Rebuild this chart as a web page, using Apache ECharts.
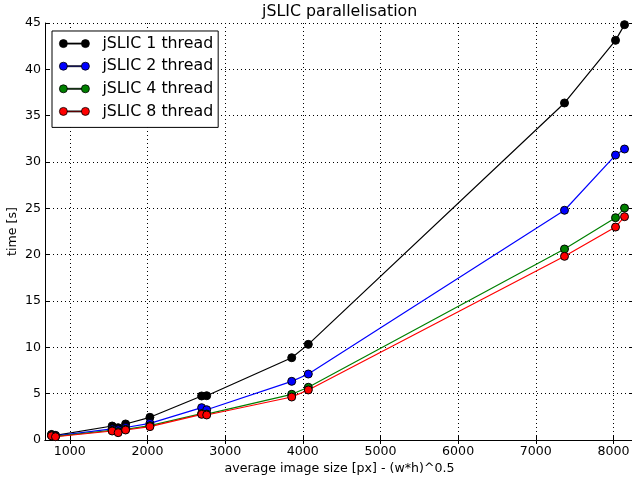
<!DOCTYPE html>
<html>
<head>
<meta charset="utf-8">
<script src="https://cdn.jsdelivr.net/npm/echarts@6.0.0/dist/echarts.min.js"></script>
<style>
    body { margin: 0; background: #fff; }
    #main { width: 632px; height: 477px; }
</style>
</head>
<body>
<div id="main"></div>
<script>
var imageSize = [764, 815, 1545, 1622, 1718, 2031, 2697, 2762, 3857, 4071, 7370, 8027, 8143];
var thread1 = [0.60, 0.50, 1.51, 1.33, 1.73, 2.45, 4.75, 4.78, 8.88, 10.32, 36.37, 43.13, 44.82];
var thread2 = [0.55, 0.45, 1.20, 1.10, 1.35, 1.80, 3.49, 3.27, 6.33, 7.12, 24.79, 30.75, 31.40];
var thread4 = [0.50, 0.40, 1.05, 0.90, 1.15, 1.55, 2.85, 2.80, 4.93, 5.69, 20.61, 23.99, 25.03];
var thread8 = [0.45, 0.35, 0.97, 0.79, 1.08, 1.44, 2.77, 2.70, 4.64, 5.40, 19.82, 22.98, 24.10];

var seriesNames = ['jSLIC 1 thread', 'jSLIC 2 thread', 'jSLIC 4 thread', 'jSLIC 8 thread'];
var seriesColors = ['#000000', '#0000ff', '#008000', '#ff0000'];
var xTicks = [1000, 2000, 3000, 4000, 5000, 6000, 7000, 8000];

var font = 'DejaVu Sans';
var legendIcon = 'path://M0,4a4,4 0 1,0 8,0a4,4 0 1,0 -8,0ZM8,3.5h14v1h-14ZM22,4a4,4 0 1,0 8,0a4,4 0 1,0 -8,0Z';

var myChart = echarts.init(document.getElementById('main'));

var toPairs = function(xs, ys) {
    return xs.map(function(x, i) {
        return [x, ys[i]];
    });
};

var makeSeries = function(idx, values) {
    return {
        name: seriesNames[idx],
        type: 'line',
        data: toPairs(imageSize, values),
        symbol: 'circle',
        symbolSize: 8,
        animation: false,
        lineStyle: { color: seriesColors[idx], width: 1.2 },
        itemStyle: { color: seriesColors[idx], borderColor: '#000', borderWidth: 1 }
    };
};

var xCommon = {
    type: 'value',
    min: 680,
    max: 8265,
    axisLine: { show: true, lineStyle: { color: '#000', width: 1 } },
    axisTick: { show: true, inside: true, length: 4, customValues: xTicks, lineStyle: { color: '#000' } }
};

var yCommon = {
    type: 'value',
    min: 0,
    max: 45,
    interval: 5,
    axisLine: { show: true, lineStyle: { color: '#000', width: 1 } },
    axisTick: { show: true, inside: true, length: 4, lineStyle: { color: '#000' } }
};

var option = {
    backgroundColor: '#fff',
    animation: false,
    title: {
        text: 'jSLIC parallelisation',
        left: 262,
        top: 4,
        padding: 0,
        textStyle: { fontFamily: font, fontSize: 15.8, fontWeight: 'normal', color: '#000' }
    },
    grid: { left: 45, right: -2, top: 23, bottom: 37, containLabel: false, outerBoundsMode: 'none' },
    legend: {
        orient: 'vertical',
        left: 52,
        top: 31,
        icon: legendIcon,
        itemWidth: 30,
        itemHeight: 8,
        itemGap: 6.6,
        padding: [4.6, 5, 8, 7],
        backgroundColor: '#fff',
        borderColor: '#000',
        borderWidth: 1,
        borderRadius: 0,
        itemStyle: { borderColor: '#000', borderWidth: 0.8 },
        textStyle: { fontFamily: font, fontSize: 15.8, color: '#000', lineHeight: 16, padding: [0, 0, 0, 8] },
        data: seriesNames
    },
    xAxis: [
        echarts.util.merge({
            position: 'bottom',
            name: 'average image size [px] - (w*h)^0.5',
            nameLocation: 'middle',
            nameGap: 22,
            nameMoveOverlap: false,
            nameTextStyle: { fontFamily: font, fontSize: 12.6, color: '#000' },
            axisLabel: {
                customValues: xTicks,
                margin: 5,
                fontFamily: font,
                fontSize: 12.6,
                color: '#000',
                formatter: function(v) { return String(v); }
            },
            splitLine: { show: true, lineStyle: { color: '#000', type: [1, 3], width: 1 } }
        }, xCommon, true),
        echarts.util.merge({
            position: 'top',
            axisLabel: { show: false },
            splitLine: { show: false }
        }, xCommon, true)
    ],
    yAxis: [
        echarts.util.merge({
            position: 'left',
            name: 'time [s]',
            nameLocation: 'middle',
            nameGap: 26,
            nameMoveOverlap: false,
            nameTextStyle: { fontFamily: font, fontSize: 12.6, color: '#000' },
            axisLabel: { margin: 4, fontFamily: font, fontSize: 12.6, color: '#000' },
            splitLine: { show: true, lineStyle: { color: '#000', type: [1, 3], width: 1 } }
        }, yCommon, true),
        echarts.util.merge({
            position: 'right',
            axisLabel: { show: false },
            splitLine: { show: false }
        }, yCommon, true)
    ],
    series: [
        makeSeries(0, thread1),
        makeSeries(1, thread2),
        makeSeries(2, thread4),
        makeSeries(3, thread8)
    ]
};

myChart.setOption(option);
</script>
</body>
</html>
